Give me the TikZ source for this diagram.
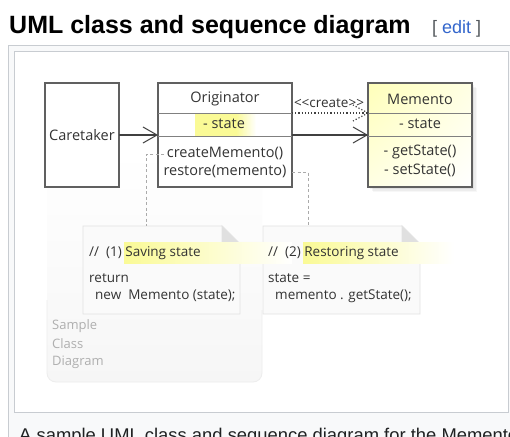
\documentclass[tikz,border=0pt]{standalone}
\usepackage{fontspec}
\setmainfont{Open Sans}
\newfontfamily\wikifont{Liberation Sans}
\usetikzlibrary{arrows.meta,shadings}
\definecolor{frameborder}{HTML}{C8CCD1}
\definecolor{framebg}{HTML}{F8F9FA}
\definecolor{linkblue}{HTML}{3366CC}
\definecolor{bracketgray}{HTML}{54595D}
\definecolor{captext}{HTML}{202122}
\definecolor{boxline}{HTML}{606060}
\definecolor{umlink}{HTML}{333333}
\definecolor{hly}{RGB}{250,250,150}
\definecolor{memY}{RGB}{255,255,185}
\definecolor{memYb}{RGB}{255,255,228}
\definecolor{notefill}{RGB}{250,250,250}
\definecolor{noteline}{RGB}{226,226,226}
\definecolor{foldfill}{RGB}{224,224,224}
\definecolor{dashgray}{RGB}{170,170,170}
\definecolor{samplegray}{RGB}{175,175,175}
\begin{document}
\begin{tikzpicture}[x=1pt,y=-1pt,
  umlbox/.style={draw=boxline, line width=1.1pt, fill=white, inner sep=0pt, outer sep=0pt, anchor=north west},
  sepline/.style={draw=boxline!80, line width=0.8pt},
  umltext/.style={font=\fontsize{14.5}{16}\selectfont, text=umlink, inner sep=0pt},
  notetext/.style={font=\fontsize{13.5}{16}\selectfont, text=umlink, inner sep=0pt, anchor=west},
  notebox/.style={inner sep=0pt, outer sep=0pt, anchor=north west, minimum width=157pt, minimum height=88pt},
  assoc/.style={draw=black!75, line width=1.1pt, -{Straight Barb[length=14pt,width=16pt,line width=1pt]}},
  createline/.style={draw=black!75, line width=1.2pt, dash pattern=on 1.2pt off 2pt},
  dashlink/.style={draw=dashgray, line width=0.9pt, dash pattern=on 3pt off 2.5pt},
  wikititle/.style={font=\wikifont\bfseries\fontsize{25}{30}\selectfont, inner sep=0pt, anchor=base west}
]
\useasboundingbox (0,0) rectangle (510,436);
\clip (0,0) rectangle (510,436);
\fill[white] (0,0) rectangle (510,436);

% page heading
\node[wikititle] (title) at (9,34) {UML class and sequence diagram};
\node[font=\wikifont\fontsize{18}{21}\selectfont, text=bracketgray, inner sep=0pt, anchor=base west] (edit) at (432,34) {[ \textcolor{linkblue}{edit} ]};

% thumbnail frame
\fill[framebg] (8,45) rectangle (530,460);
\draw[frameborder, line width=1pt] (8.5,460) -- (8.5,45.5) -- (530,45.5);
\fill[white] (14,51) rectangle (508,413);
\draw[frameborder, line width=1pt] (14.5,51.5) rectangle (508.5,412.5);

% caption (cut off by the bottom edge, as in the reference)
\node[font=\wikifont\fontsize{18.4}{22}\selectfont, text=captext, inner sep=0pt, anchor=base west] (caption) at (19,441) {A sample UML class and sequence diagram for the Memento design pattern.};

% sample class diagram background
\shade[top color=white, bottom color=black!3.5, rounded corners=9pt] (47,150) rectangle (262,382);
\draw[black!7, line width=0.8pt, rounded corners=9pt] (47,300) -- (47,382) -- (262,382) -- (262,310);
\node[font=\fontsize{13}{15}\selectfont, text=samplegray, inner sep=0pt, anchor=west] (s1) at (52,326) {Sample};
\node[font=\fontsize{13}{15}\selectfont, text=samplegray, inner sep=0pt, anchor=west] (s2) at (52,344) {Class};
\node[font=\fontsize{13}{15}\selectfont, text=samplegray, inner sep=0pt, anchor=west] (s3) at (52,362) {Diagram};

% Caretaker
\node[umlbox, minimum width=74pt, minimum height=104pt] (caretaker) at (45,83) {};
\node[umltext] (caretakerlbl) at (caretaker.center) {Caretaker};

% Originator
\node[umlbox, minimum width=134pt, minimum height=104pt] (originator) at (158,83) {};
\fill[hly] (195,114) rectangle (236,135.5);
\shade[left color=hly, right color=white] (236,114) rectangle (256,135.5);
\draw[sepline] ([yshift=-30pt]originator.north west) -- ([yshift=-30pt]originator.north east);
\draw[sepline] ([yshift=-53pt]originator.north west) -- ([yshift=-53pt]originator.north east);
\node[umltext] (origname) at (225,99) {Originator};
\node[umltext] (origstate) at (224,124) {- state};
\node[umltext] (origm1) at (225,153) {createMemento()};
\node[umltext] (origm2) at (225,171) {restore(memento)};

% Memento with shadow
\foreach \d/\o in {5/0.03,3.5/0.04,2/0.05}{
  \fill[black, opacity=\o] (368+\d,83+\d) rectangle (472+\d,187+\d);
}
\node[umlbox, minimum width=104pt, minimum height=104pt, fill=none] (memento) at (368,83) {};
\shade[upper left=memY, upper right=memYb, lower left=memYb, lower right=white] (memento.north west) rectangle (memento.south east);
\draw[boxline, line width=1.1pt] (memento.north west) rectangle (memento.south east);
\draw[sepline] ([yshift=-30pt]memento.north west) -- ([yshift=-30pt]memento.north east);
\draw[sepline] ([yshift=-53pt]memento.north west) -- ([yshift=-53pt]memento.north east);
\node[umltext] (memname) at (420,99) {Memento};
\node[umltext] (memstate) at (420,124) {- state};
\node[umltext] (memm1) at (420,152) {- getState()};
\node[umltext] (memm2) at (420,170) {- setState()};

% associations
\draw[assoc] (caretaker.east) -- (caretaker.east -| originator.west);
\draw[assoc] (originator.east) -- (memento.west);

% <<create>> dependency
\draw[createline] ([yshift=-30pt]originator.north east) -- ([yshift=-30pt]memento.north west);
\draw[createline] ([yshift=-30pt]memento.north west) -- ++(-15,-8);
\draw[createline] ([yshift=-30pt]memento.north west) -- ++(-15,8);
\node[font=\fontsize{13.5}{15}\selectfont, text=umlink, inner sep=0pt] (createlbl) at (329,103) {<{}<create>{}>};

% notes
\node[notebox] (note1) at (83,226) {};
\node[notebox] (note2) at (263,226) {};
\foreach \n in {note1,note2}{
  \filldraw[fill=notefill, draw=noteline, line width=0.9pt]
    (\n.north west) -- ([xshift=-18pt]\n.north east) -- ([yshift=-18pt]\n.north east)
    -- (\n.south east) -- (\n.south west) -- cycle;
  \filldraw[fill=foldfill, draw=noteline, line width=0.9pt]
    ([xshift=-18pt]\n.north east) -- ([yshift=-18pt]\n.north east) -- ([xshift=-18pt,yshift=-18pt]\n.north east) -- cycle;
}
\shade[left color=hly, right color=white] (124,242) rectangle (292,263);
\shade[left color=hly, right color=white] (303,242) rectangle (454,263);

\node[notetext] (n1a) at (89,253) {//\ \ (1) Saving state};
\node[notetext] (n1b) at (89,278) {return};
\node[notetext] (n1c) at (95,296) {new\ \ Memento (state);};
\node[notetext] (n2a) at (268,253) {//\ \ (2) Restoring state};
\node[notetext] (n2b) at (268,278) {state =};
\node[notetext] (n2c) at (275,296) {memento . getState();};

% note links
\coordinate (c1) at (164,154);
\coordinate (c2) at (292,172);
\draw[dashlink] (c1) -| ([xshift=63pt]note1.north west);
\draw[dashlink] (c2) -| ([xshift=45pt]note2.north west);
\end{tikzpicture}
\end{document}
